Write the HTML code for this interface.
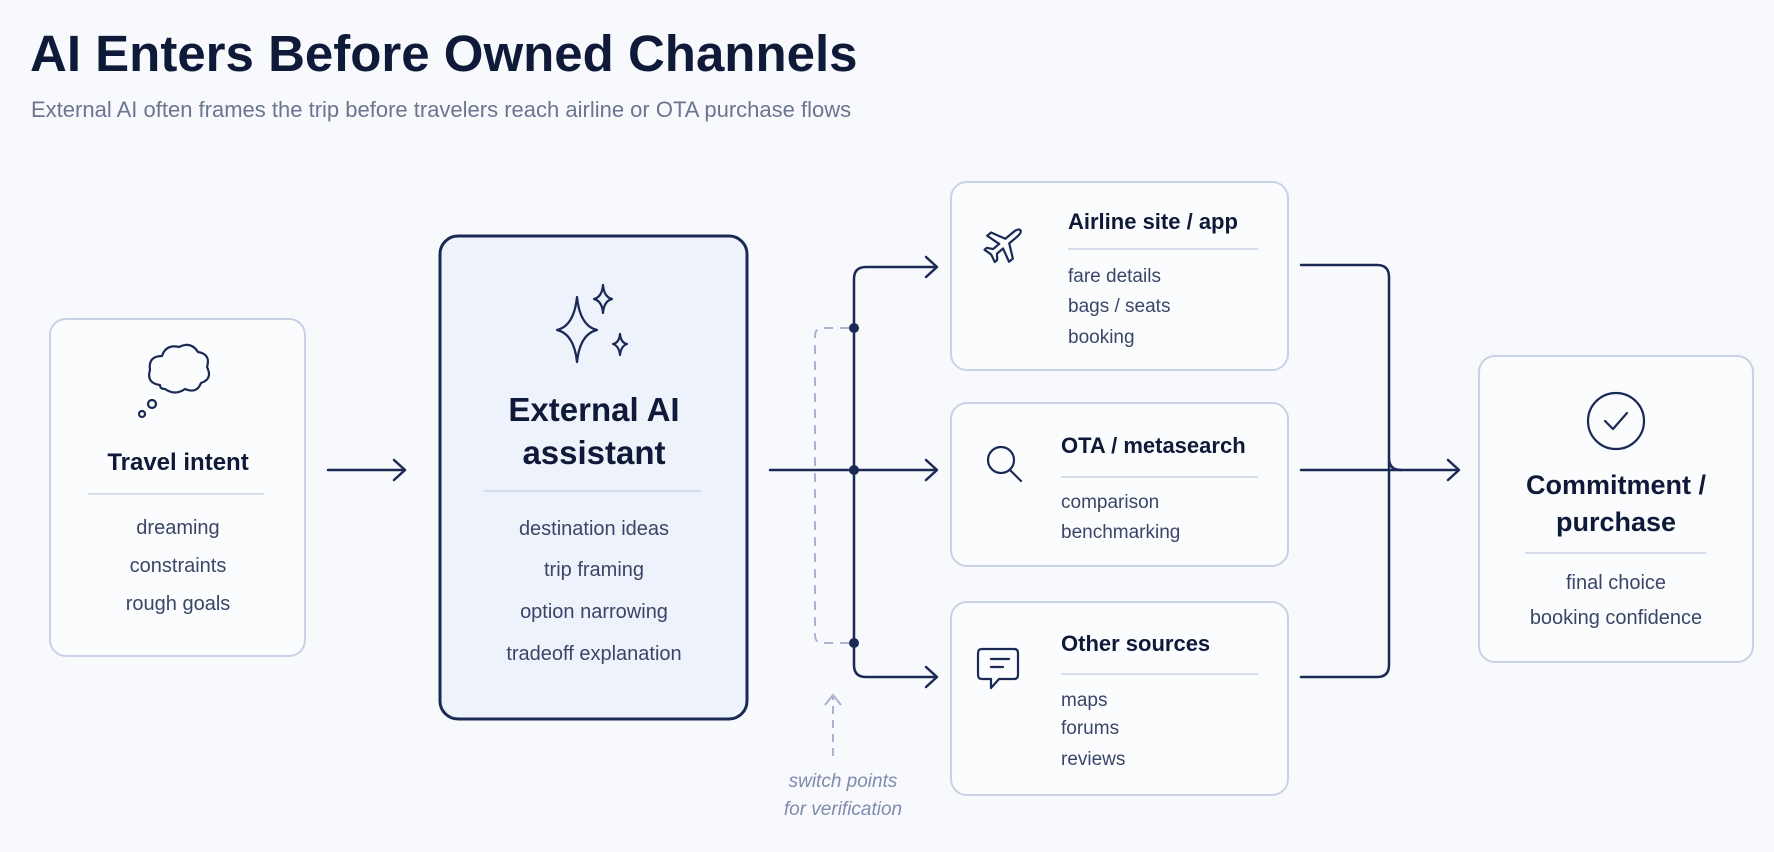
<!DOCTYPE html>
<html><head><meta charset="utf-8"><style>
html,body{margin:0;padding:0;background:#f8f9fc;}
svg{display:block;font-family:"Liberation Sans",sans-serif;}
</style></head><body>
<svg width="1774" height="852" viewBox="0 0 1774 852" xmlns="http://www.w3.org/2000/svg">
<rect width="1774" height="852" fill="#f8f9fc"/>
<text x="30" y="71" font-size="51" font-weight="bold" fill="#0f1a38">AI Enters Before Owned Channels</text>
<text x="31" y="117" font-size="22" fill="#6b7590">External AI often frames the trip before travelers reach airline or OTA purchase flows</text>

<g fill="#fbfcfe" stroke="#c9d1e6" stroke-width="2">
<rect x="50" y="319" width="255" height="337" rx="16"/>
<rect x="951" y="182" width="337" height="188" rx="16"/>
<rect x="951" y="403" width="337" height="163" rx="16"/>
<rect x="951" y="602" width="337" height="193" rx="16"/>
<rect x="1479" y="356" width="274" height="306" rx="16"/>
</g>
<rect x="440" y="236" width="307" height="483" rx="18" fill="#eef2fb" stroke="#1b2a55" stroke-width="3"/>

<g stroke="#1b2a55" stroke-width="2.5" fill="none" stroke-linecap="round" stroke-linejoin="round">
<line x1="328" y1="470" x2="405" y2="470"/><polyline points="394,460 405,470 394,480"/>
<line x1="770" y1="470" x2="936" y2="470"/><polyline points="926,460 937,470 926,480"/>
<path d="M936 267 H866 Q854 267 854 279 V665 Q854 677 866 677 H936"/>
<polyline points="926,257 937,267 926,277"/>
<polyline points="926,667 937,677 926,687"/>
<path d="M1301 265 H1377 Q1389 265 1389 277 V458 Q1389 470 1401 470 M1389 458 V665 Q1389 677 1377 677 H1301"/>
<line x1="1301" y1="470" x2="1458" y2="470"/><polyline points="1448,460 1459,470 1448,480"/>
</g>
<g fill="#1b2a55"><circle cx="854" cy="328" r="5"/><circle cx="854" cy="470" r="5"/><circle cx="854" cy="643" r="5"/></g>
<path d="M849 328 H823 Q815 328 815 336 V635 Q815 643 823 643 H849" stroke="#aab4d0" stroke-width="2" fill="none" stroke-dasharray="9 7"/>
<line x1="833" y1="756" x2="833" y2="696" stroke="#aab4d0" stroke-width="2" stroke-dasharray="8 6"/>
<polyline points="825,705 833,695 841,705" stroke="#aab4d0" stroke-width="2" fill="none"/>
<g font-size="19" font-style="italic" fill="#7f8bb0" text-anchor="middle">
<text x="843" y="787">switch points</text><text x="843" y="815">for verification</text></g>

<g stroke="#1b2a55" stroke-width="2.2" fill="none" stroke-linejoin="round" stroke-linecap="round">
<path d="M160 385 q-14 -2 -10 -15 q-2 -14 12 -14 q4 -12 17 -9 q12 -6 19 5 q13 2 9 15 q6 12 -6 16 q-4 11 -16 6 q-10 7 -20 0 q-5 0 -5 -4z"/>
<circle cx="152" cy="404" r="4"/><circle cx="142" cy="414" r="3"/>
<path d="M577 297 Q580 326 597 330 Q580 334 577 362 Q574 334 557 330 Q574 326 577 297Z"/>
<path d="M603 285 Q604 297 612 299 Q604 301 603 313 Q602 301 594 299 Q602 297 603 285Z"/>
<path d="M620 334 Q621 343 627 344 Q621 346 620 355 Q619 346 613 344 Q619 343 620 334Z"/>
<g transform="translate(1005,243) rotate(-40)">
<path d="M20 0 Q20 -3 12 -3 L3 -3 L-4 -17 L-9 -17 L-5 -3 L-13 -3 L-17 -8 L-20 -8 L-18 0 L-20 8 L-17 8 L-13 3 L-5 3 L-9 17 L-4 17 L3 3 L12 3 Q20 3 20 0Z"/>
</g>
<circle cx="1001" cy="460" r="13"/><line x1="1010" y1="470" x2="1021" y2="481"/>
<path d="M982 649 h32 q4 0 4 4 v22 q0 4 -4 4 h-15 l-8 9 v-9 h-9 q-4 0 -4 -4 v-22 q0 -4 4 -4z"/>
<line x1="991" y1="659" x2="1009" y2="659"/><line x1="991" y1="667" x2="1003" y2="667"/>
<circle cx="1616" cy="421" r="28"/><polyline points="1605,421 1613,429 1627,413"/>
</g>

<g fill="#0f1a38" font-weight="bold" text-anchor="middle">
<text x="178" y="470" font-size="24">Travel intent</text>
<text x="594" y="421" font-size="33">External AI</text>
<text x="594" y="464" font-size="33">assistant</text>
<text x="1616" y="494" font-size="27">Commitment /</text>
<text x="1616" y="531" font-size="27">purchase</text>
</g>
<g fill="#0f1a38" font-weight="bold" font-size="22">
<text x="1068" y="229">Airline site / app</text>
<text x="1061" y="453">OTA / metasearch</text>
<text x="1061" y="651">Other sources</text>
</g>
<g stroke="#c9d1e6" stroke-width="1.5">
<line x1="88" y1="494" x2="264" y2="494"/><line x1="484" y1="491" x2="701" y2="491"/>
<line x1="1068" y1="249" x2="1258" y2="249"/><line x1="1061" y1="477" x2="1258" y2="477"/>
<line x1="1061" y1="674" x2="1258" y2="674"/><line x1="1525" y1="553" x2="1706" y2="553"/>
</g>
<g fill="#3a4668" font-size="20" text-anchor="middle">
<text x="178" y="534">dreaming</text><text x="178" y="572">constraints</text><text x="178" y="610">rough goals</text>
<text x="594" y="535">destination ideas</text><text x="594" y="576">trip framing</text><text x="594" y="618">option narrowing</text><text x="594" y="660">tradeoff explanation</text>
<text x="1616" y="589">final choice</text><text x="1616" y="624">booking confidence</text>
</g>
<g fill="#3a4668" font-size="19">
<text x="1068" y="282">fare details</text><text x="1068" y="312">bags / seats</text><text x="1068" y="343">booking</text>
<text x="1061" y="508">comparison</text><text x="1061" y="538">benchmarking</text>
<text x="1061" y="706">maps</text><text x="1061" y="734">forums</text><text x="1061" y="765">reviews</text>
</g>
</svg>
</body></html>
